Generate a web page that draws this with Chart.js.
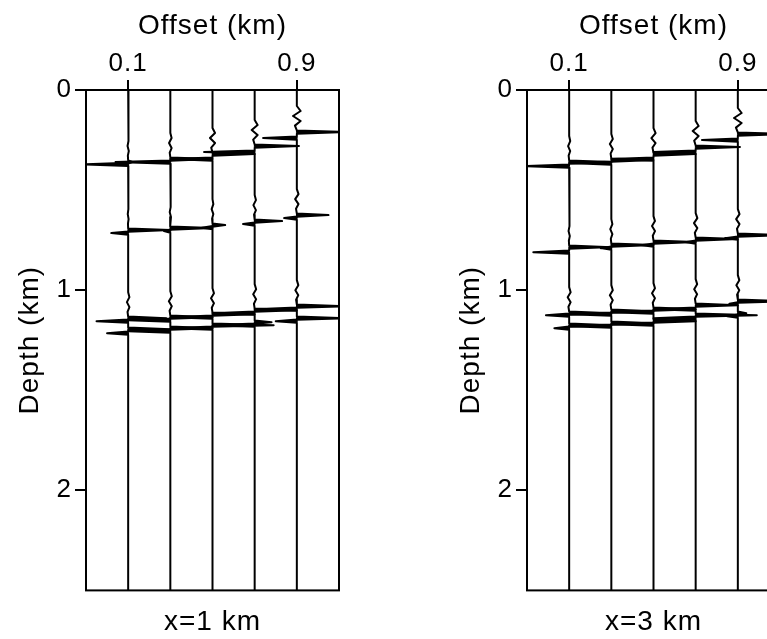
<!DOCTYPE html>
<html>
<head>
<meta charset="utf-8">
<script src="https://cdn.jsdelivr.net/npm/chart.js@4.4.1/dist/chart.umd.min.js"></script>
<style>
  html, body { margin: 0; padding: 0; background: #fff; overflow: hidden; }
  body { width: 767px; height: 639px; position: relative; }
  canvas { position: absolute; top: 0; }
  #gatherX1 { left: 0; }
  #gatherX3 { left: 441px; }
</style>
</head>
<body>
<canvas id="gatherX1" width="380" height="639"></canvas>
<canvas id="gatherX3" width="380" height="639"></canvas>
<script>
/*=============== DATA ===============*/
const offsets     = [0.1, 0.3, 0.5, 0.7, 0.9];   // km, one trace each
const offsetTicks = [0.1, 0.9];
const depthTicks  = [0, 1, 2];

// rows = reflections (A, B, C, D), columns = offsets
// depth (km) of the rightward / leftward swing and its size (km of offset)

/* x = 1 km */
const x1RightDepth = [
  [0.360, 0.345, 0.320, 0.280, 0.210],
  [0.700, 0.690, 0.675, 0.655, 0.625],
  [1.140, 1.135, 1.120, 1.100, 1.080],
  [1.195, 1.190, 1.175, 1.160, 1.140]
];
const x1RightAmp = [
  [0.02, 0.20, 0.20, 0.21, 0.23],
  [0.20, 0.20, 0.06, 0.13, 0.15],
  [0.18, 0.20, 0.20, 0.20, 0.23],
  [0.20, 0.20, 0.29, 0.08, 0.23]
];
const x1LeftDepth = [
  [0.372, 0.360, 0.345, 0.310, 0.240],
  [0.715, 0.705, 0.688, 0.670, 0.640],
  [1.155, 1.150, 1.135, 1.115, 1.095],
  [1.215, 1.205, 1.190, 1.175, 1.155]
];
const x1LeftAmp = [
  [-0.22, -0.26, -0.20, -0.24, -0.16],
  [-0.08, -0.03, -0.05, -0.055, -0.06],
  [-0.15, -0.20, -0.20, -0.20, -0.20],
  [-0.10, -0.20, -0.20, -0.20, -0.10]
];
const x1Ripple = [
  [0.003, 0.006, 0.012, 0.014, 0.018],
  [0.002, 0.003, 0.004, 0.006, 0.008],
  [0.006, 0.007, 0.007, 0.007, 0.007],
  [0, 0, 0, 0, 0]
];

/* x = 3 km */
const x3RightDepth = [
  [0.360, 0.350, 0.320, 0.285, 0.220],
  [0.785, 0.775, 0.760, 0.745, 0.725],
  [1.115, 1.105, 1.095, 1.075, 1.055],
  [1.175, 1.165, 1.155, 1.125, 1.115]
];
const x3RightAmp = [
  [0.20, 0.20, 0.20, 0.21, 0.23],
  [0.20, 0.20, 0.20, 0.20, 0.23],
  [0.20, 0.20, 0.20, 0.20, 0.23],
  [0.20, 0.20, 0.20, 0.29, 0.04]
];
const x3LeftDepth = [
  [0.380, 0.365, 0.345, 0.310, 0.250],
  [0.810, 0.790, 0.775, 0.760, 0.740],
  [1.125, 1.120, 1.110, 1.095, 1.068],
  [1.190, 1.180, 1.170, 1.140, 1.130]
];
const x3LeftAmp = [
  [-0.22, -0.20, -0.20, -0.20, -0.17],
  [-0.17, -0.05, -0.06, -0.05, -0.06],
  [-0.11, -0.20, -0.20, -0.20, -0.04],
  [-0.07, -0.20, -0.20, -0.20, -0.05]
];
const x3Ripple = [
  [0.005, 0.007, 0.010, 0.014, 0.018],
  [0.003, 0.005, 0.007, 0.008, 0.008],
  [0.007, 0.007, 0.007, 0.007, 0.007],
  [0, 0, 0, 0, 0]
];

/*=============== STYLE ===============*/
Chart.defaults.font.family = "'Liberation Sans', Arial, sans-serif";
Chart.defaults.color = '#000';

// small precursor wiggle drawn above each reflection: [depth shift, sign]
const ripplePattern = [[-0.13, 0], [-0.105, 1], [-0.08, -1], [-0.055, 1], [-0.032, -0.5]];
const wedge = 0.008;   // half-height of a swing's base, km

/*=============== TRACE BUILDER ===============*/
// one swing = solid wedge: base edge, tip, centre, tip, other base edge
const pushSwing = (pts, x0, amp, d) => {
  pts.push({ x: x0, y: d - wedge });
  pts.push({ x: x0 + amp, y: d });
  pts.push({ x: x0, y: d });
  pts.push({ x: x0 + amp, y: d });
  pts.push({ x: x0, y: d + wedge });
};

const buildTrace = (k, rDepth, rAmp, lDepth, lAmp, ripple) => {
  const x0 = offsets[k];
  const pts = [{ x: x0, y: 0 }];
  for (let e = 0; e < rDepth.length; e++) {
    const d = rDepth[e][k], d2 = lDepth[e][k], r = ripple[e][k];
    if (r > 0) ripplePattern.forEach(([dz, s]) => pts.push({ x: x0 + s * r, y: d + dz }));
    pushSwing(pts, x0, rAmp[e][k], d);
    pushSwing(pts, x0, lAmp[e][k], d2);
  }
  pts.push({ x: x0, y: 2.5 });
  return pts;
};

/*=============== PLUGINS ===============*/
const framePlugin = {
  id: 'frame',
  afterDatasetsDraw(chart) {
    const { ctx, chartArea: a } = chart;
    ctx.save();
    ctx.strokeStyle = '#000';
    ctx.lineWidth = 2;
    ctx.strokeRect(a.left, a.top, a.right - a.left, a.bottom - a.top);
    ctx.restore();
  }
};
const spacingPlugin = {
  id: 'spacing',
  beforeLayout(chart) { chart.ctx.letterSpacing = '1px'; },
  beforeDraw(chart) { chart.ctx.letterSpacing = '1px'; }
};

/*=============== CHARTS ===============*/
const makeGather = (canvasId, label, rd, ra, ld, la, rp) => {
  const datasets = offsets.map((o, k) => ({
    data: buildTrace(k, rd, ra, ld, la, rp),
    showLine: true,
    borderColor: '#000',
    borderWidth: 2,
    borderJoinStyle: 'round',
    pointRadius: 0,
    tension: 0
  }));

  new Chart(document.getElementById(canvasId), {
    type: 'scatter',
    data: { datasets },
    options: {
      responsive: false,
      animation: false,
      devicePixelRatio: 1,
      layout: { padding: { left: 0, right: 41, top: 0, bottom: 0 } },
      plugins: {
        legend: { display: false },
        tooltip: { enabled: false },
        title: {
          display: true, text: label, position: 'bottom', fullSize: false,
          color: '#000', font: { size: 28, weight: 'normal' },
          padding: { top: 15, bottom: 0 }
        }
      },
      scales: {
        x: {
          type: 'linear', position: 'top', min: -0.1, max: 1.1,
          afterFit: s => { s.height = 90; },
          afterBuildTicks: s => { s.ticks = offsetTicks.map(v => ({ value: v })); },
          grid: { drawOnChartArea: false, drawTicks: true, tickLength: 10, color: '#000', lineWidth: 2 },
          border: { display: false },
          ticks: { font: { size: 26 }, padding: 1, maxRotation: 0, autoSkip: false, callback: v => v.toFixed(1) },
          title: { display: true, text: 'Offset (km)', font: { size: 28 }, padding: { top: 9, bottom: 0 } }
        },
        y: {
          type: 'linear', position: 'left', reverse: true, min: 0, max: 2.5,
          afterFit: s => { s.width = 86; },
          afterBuildTicks: s => { s.ticks = depthTicks.map(v => ({ value: v })); },
          grid: { drawOnChartArea: false, drawTicks: true, tickLength: 11, color: '#000', lineWidth: 2 },
          border: { display: false },
          ticks: { font: { size: 26 }, padding: 3, autoSkip: false, callback: v => String(v) },
          title: { display: true, text: 'Depth (km)', font: { size: 28 }, padding: { top: 13, bottom: 0 } }
        }
      }
    },
    plugins: [spacingPlugin, framePlugin]
  });
};

makeGather('gatherX1', 'x=1 km', x1RightDepth, x1RightAmp, x1LeftDepth, x1LeftAmp, x1Ripple);
makeGather('gatherX3', 'x=3 km', x3RightDepth, x3RightAmp, x3LeftDepth, x3LeftAmp, x3Ripple);
</script>
</body>
</html>
